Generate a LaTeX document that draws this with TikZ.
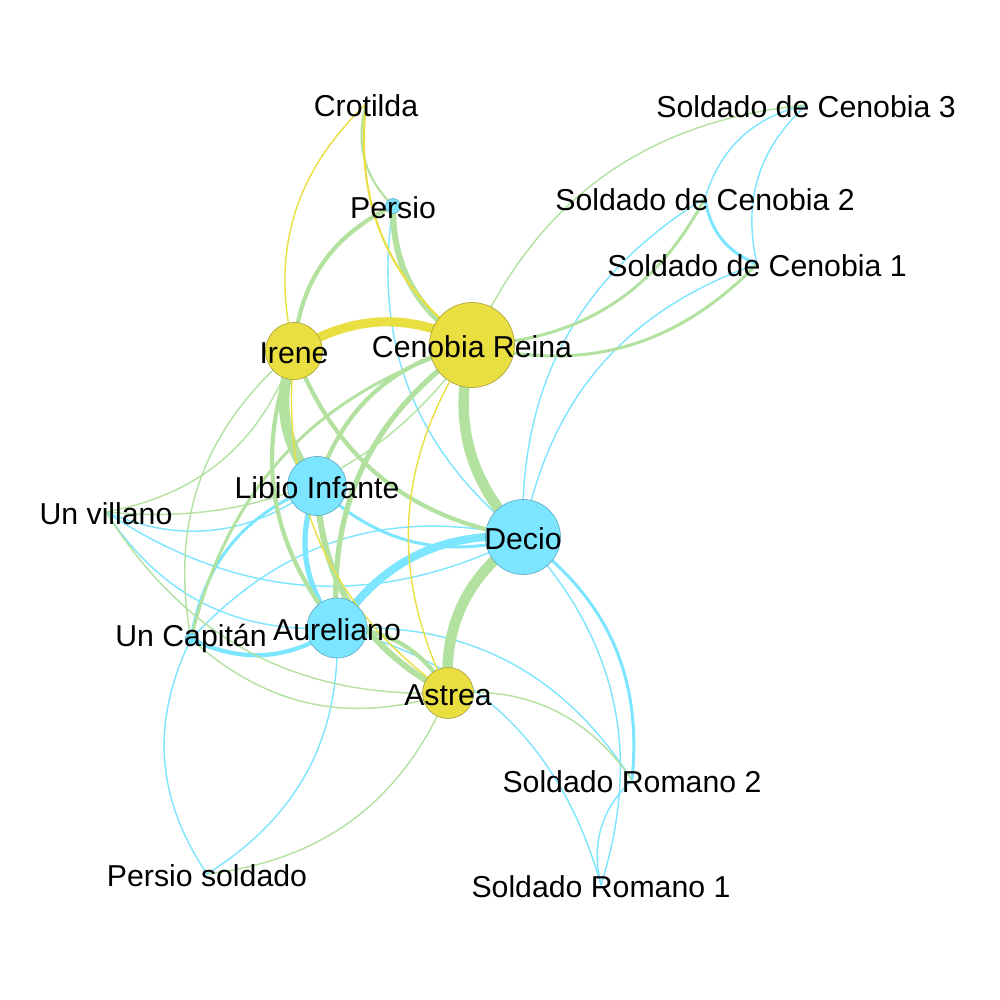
\documentclass[tikz,border=0pt]{standalone}
\usepackage{fontspec}
\setmainfont{Liberation Sans}
\usetikzlibrary{backgrounds}
\definecolor{nodeyellow}{RGB}{234,223,64}
\definecolor{nodecyan}{RGB}{124,229,255}
\definecolor{edgegreen}{RGB}{179,226,160}
\definecolor{yborder}{RGB}{160,150,50}
\definecolor{cborder}{RGB}{90,160,185}
\begin{document}
\begin{tikzpicture}[x=0.01cm,y=0.01cm,
  ynode/.style={circle,draw=yborder,fill=nodeyellow,line width=0.15pt,inner sep=0pt},
  cnode/.style={circle,draw=cborder,fill=nodecyan,line width=0.15pt,inner sep=0pt},
  tnode/.style={circle,fill=#1,minimum size=0.02cm,inner sep=0pt},
  lbl/.style={font=\fontsize{8.6}{10}\selectfont,text height=0.72em,text depth=0pt,inner sep=0pt},
  yedge/.style={draw=nodeyellow,bend left=30},
  gedge/.style={draw=edgegreen,bend left=30},
  cedge/.style={draw=nodecyan,bend left=30},
  w1/.style={line width=0.4pt},
  w2/.style={line width=0.6pt},
  w3/.style={line width=0.85pt},
  w4/.style={line width=1.2pt},
  w5/.style={line width=1.5pt},
  w6/.style={line width=1.75pt},
  w8/.style={line width=2.3pt},
  w9/.style={line width=2.6pt},
  w10/.style={line width=3pt}]

\useasboundingbox (0,0) rectangle (1000,-1000) ;

\node[tnode=nodeyellow,label={[lbl]center:Crotilda}] (cro) at (366,-104) {} ;
\node[cnode,minimum size=0.15cm,label={[lbl]center:Persio}] (per) at (393,-206) {} ;
\node[tnode=nodecyan,label={[lbl]center:Soldado de Cenobia 3}] (sc3) at (806,-105) {} ;
\node[tnode=nodecyan,label={[lbl]center:Soldado de Cenobia 2}] (sc2) at (705,-198) {} ;
\node[tnode=nodecyan,label={[lbl]center:Soldado de Cenobia 1}] (sc1) at (757,-264) {} ;
\node[ynode,minimum size=0.85cm,label={[lbl]center:Cenobia Reina}] (cen) at (472,-345) {} ;
\node[ynode,minimum size=0.57cm,label={[lbl]center:Irene}] (ire) at (294,-351) {} ;
\node[cnode,minimum size=0.59cm,label={[lbl]center:Libio Infante}] (lib) at (317,-486) {} ;
\node[tnode=nodecyan,label={[lbl]center:Un villano}] (vil) at (106,-512) {} ;
\node[cnode,minimum size=0.75cm,label={[lbl]center:Decio}] (dec) at (523,-537) {} ;
\node[cnode,minimum size=0.12cm,label={[lbl,yshift=1.6pt]center:Un Capitán}] (cap) at (191,-639) {} ;
\node[cnode,minimum size=0.60cm,label={[lbl]center:Aureliano}] (aur) at (337,-628) {} ;
\node[ynode,minimum size=0.51cm,label={[lbl]center:Astrea}] (ast) at (448,-693) {} ;
\node[tnode=nodecyan,label={[lbl]center:Soldado Romano 2}] (sr2) at (632,-780) {} ;
\node[tnode=nodecyan,label={[lbl]center:Persio soldado}] (ps) at (207,-874) {} ;
\node[tnode=nodecyan,label={[lbl]center:Soldado Romano 1}] (sr1) at (601,-885) {} ;

\begin{scope}[on background layer]
\fill[white] (0,0) rectangle (1000,-1000) ;

\draw[cedge,w1] (dec.center) to (per.center) ;
\draw[cedge,w3] (sc1.center) to (sc2.center) ;
\draw[cedge,w1] (sc1.center) to (sc3.center) ;
\draw[cedge,w1] (sc2.center) to (sc3.center) ;
\draw[cedge,w1] (dec.center) to (sc2.center) ;
\draw[cedge,w1] (dec.center) to (sc1.center) ;
\draw[cedge,w5] (aur.center) to (lib.center) ;
\draw[cedge,w8] (aur.center) to (dec.center) ;
\draw[cedge,w3] (dec.center) to (lib.center) ;
\draw[cedge,w3] (dec.center) to (sr2.center) ;
\draw[cedge,w1] (dec.center) to (sr1.center) ;
\draw[cedge,w1] (sr1.center) to (sr2.center) ;
\draw[cedge,w1] (aur.center) to (sr1.center) ;
\draw[cedge,w1] (aur.center) to (sr2.center) ;
\draw[cedge,w1] (aur.center) to (ps.center) ;
\draw[cedge,w1] (ps.center) to (cap.center) ;
\draw[cedge,w4] (aur.center) to (cap.center) ;
\draw[cedge,w3] (cap.center) to (lib.center) ;
\draw[cedge,w1] (cap.center) to (dec.center) ;
\draw[cedge,w1] (lib.center) to (vil.center) ;
\draw[cedge,w1] (dec.center) to (vil.center) ;
\draw[cedge,w1] (aur.center) to (vil.center) ;

\draw[gedge,w2] (per.center) to (cro.center) ;
\draw[gedge,w6] (cen.center) to (per.center) ;
\draw[gedge,w4] (ire.center) to (per.center) ;
\draw[gedge,w1] (cen.center) to (sc3.center) ;
\draw[gedge,w3] (sc2.center) to (cen.center) ;
\draw[gedge,w3] (sc1.center) to (cen.center) ;
\draw[gedge,w10] (dec.center) to (cen.center) ;
\draw[gedge,w4] (lib.center) to (cen.center) ;
\draw[gedge,w5] (aur.center) to (cen.center) ;
\draw[gedge,w3] (cap.center) to (cen.center) ;
\draw[gedge,w1] (cen.center) to (vil.center) ;
\draw[gedge,w1] (ire.center) to (vil.center) ;
\draw[gedge,w10] (lib.center) to (ire.center) ;
\draw[gedge,w4] (aur.center) to (ire.center) ;
\draw[gedge,w1] (cap.center) to (ire.center) ;
\draw[gedge,w4] (dec.center) to (ire.center) ;
\draw[gedge,w6] (ast.center) to (lib.center) ;
\draw[gedge,w4] (aur.center) to (ast.center) ;
\draw[gedge,w10] (ast.center) to (dec.center) ;
\draw[gedge,w1] (ast.center) to (cap.center) ;
\draw[gedge,w1] (ast.center) to (vil.center) ;
\draw[gedge,w1] (ast.center) to (ps.center) ;
\draw[gedge,w1] (ast.center) to (sr2.center) ;

\draw[yedge,w9] (ire.center) to (cen.center) ;
\draw[yedge,w1] (ire.center) to (cro.center) ;
\draw[yedge,w2] (cen.center) to (cro.center) ;
\draw[yedge,w1] (ast.center) to (cen.center) ;
\draw[yedge,w1] (ast.center) to (ire.center) ;
\end{scope}

\end{tikzpicture}
\end{document}
